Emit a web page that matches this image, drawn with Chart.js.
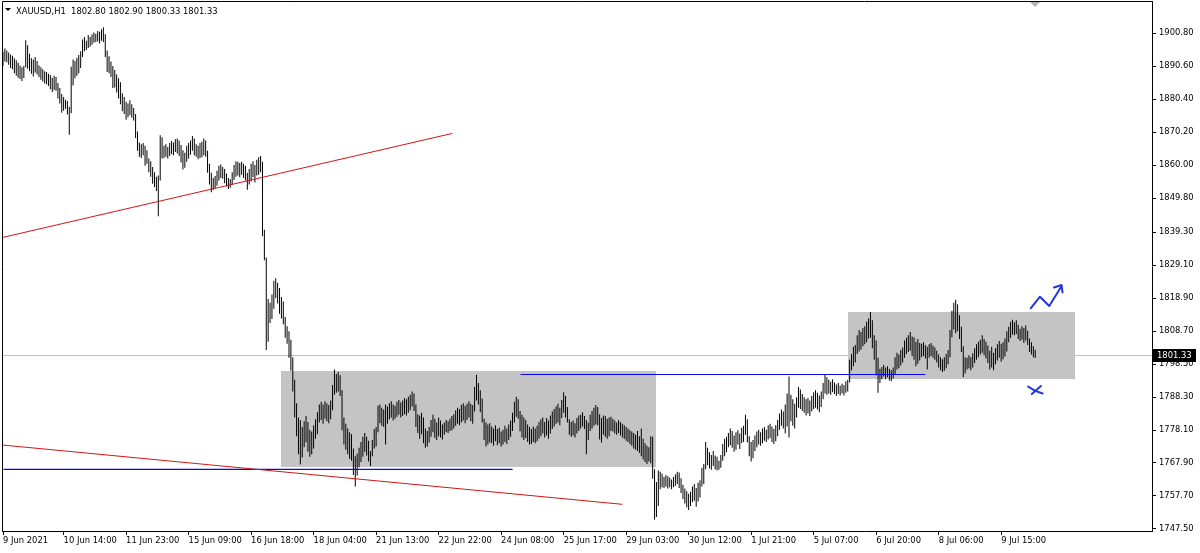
<!DOCTYPE html>
<html>
<head>
<meta charset="utf-8">
<title>XAUUSD,H1</title>
<script src="https://cdn.jsdelivr.net/npm/chart.js@4.4.0/dist/chart.umd.min.js"></script>
<style>
    html, body { margin: 0; padding: 0; background: #fff; }
    #chartBox { width: 1200px; height: 553px; }
</style>
</head>
<body>
<div id="chartBox"><canvas id="priceChart" width="1200" height="553"></canvas></div>
<script>
const symbolTitle = 'XAUUSD,H1';
const lastBarOhlc = [1802.80, 1802.90, 1800.33, 1801.33];
const lastPrice = 1801.33;

// H1 bars, one value per hour
const barHigh = [
    1895.0, 1896.0, 1895.4, 1894.8, 1894.2, 1893.8, 1893.0, 1892.4, 1891.6, 1890.8,
    1890.2, 1890.6, 1898.6, 1897.0, 1894.4, 1893.0, 1892.6, 1893.4, 1892.2, 1890.8,
    1890.2, 1889.6, 1889.0, 1888.8, 1888.2, 1887.8, 1887.0, 1887.6, 1887.2, 1885.4,
    1883.8, 1882.0, 1881.0, 1880.2, 1879.8, 1878.0, 1890.4, 1892.6, 1892.2, 1893.2,
    1894.0, 1895.2, 1898.8, 1899.6, 1898.4, 1900.2, 1899.6, 1900.4, 1901.0, 1900.6,
    1901.4, 1901.2, 1902.0, 1902.6, 1900.4, 1895.4, 1893.6, 1892.0, 1890.6, 1889.4,
    1888.0, 1886.8, 1885.6, 1882.2, 1881.0, 1879.6, 1879.0, 1880.0, 1878.8, 1877.6,
    1875.8, 1870.4, 1867.0, 1866.4, 1866.8, 1866.0, 1864.6, 1862.0, 1861.2, 1859.4,
    1857.8, 1856.4, 1856.8, 1869.2, 1868.6, 1866.0, 1866.4, 1865.6, 1866.8, 1867.4,
    1867.0, 1868.0, 1868.2, 1867.6, 1866.2, 1864.6, 1863.8, 1866.0, 1866.8, 1867.6,
    1869.0, 1868.2, 1866.4, 1866.0, 1866.8, 1867.2, 1868.2, 1867.6, 1864.4, 1860.4,
    1857.6, 1856.0, 1856.6, 1858.2, 1859.8, 1860.2, 1859.4, 1858.8, 1857.4, 1856.0,
    1855.6, 1857.8, 1860.0, 1861.2, 1861.0, 1860.6, 1861.0, 1860.4, 1859.8, 1857.6,
    1858.8, 1860.4, 1861.2, 1860.0, 1861.6, 1862.4, 1862.8, 1861.0, 1840.0, 1831.4,
    1818.6, 1817.4, 1820.0, 1824.2, 1825.0, 1823.6, 1822.0, 1819.2, 1817.8, 1813.0,
    1810.2, 1808.6, 1806.0, 1800.6, 1793.6, 1786.4, 1782.0, 1781.2, 1779.0, 1780.8,
    1782.4, 1780.6, 1778.2, 1777.6, 1779.6, 1781.4, 1783.6, 1786.0, 1786.8, 1786.0,
    1787.0, 1786.4, 1785.8, 1787.2, 1792.0, 1796.8, 1795.4, 1796.0, 1795.0, 1790.4,
    1782.0, 1780.0, 1778.6, 1777.4, 1776.8, 1772.4, 1770.0, 1770.8, 1772.6, 1774.4,
    1776.0, 1777.2, 1776.0, 1774.8, 1771.6, 1775.0, 1778.4, 1779.0, 1785.6, 1786.0,
    1785.0, 1784.4, 1786.0, 1785.4, 1786.4, 1787.0, 1786.0, 1785.6, 1786.8, 1787.4,
    1786.6, 1787.2, 1788.0, 1787.6, 1788.4, 1789.0, 1790.0, 1789.4, 1786.0, 1783.0,
    1782.6, 1783.4, 1782.0, 1778.6, 1777.8, 1779.0, 1781.2, 1782.8, 1781.6, 1780.4,
    1782.0, 1781.0, 1779.8, 1780.4, 1781.2, 1780.8, 1781.6, 1782.4, 1783.0, 1784.2,
    1785.0, 1784.6, 1785.8, 1786.4, 1785.6, 1786.2, 1787.0, 1786.2, 1785.8, 1791.4,
    1795.2, 1792.6, 1790.4, 1787.8, 1781.6, 1780.4, 1779.8, 1780.2, 1779.2, 1778.6,
    1779.6, 1778.4, 1778.8, 1777.6, 1778.2, 1779.4, 1778.6, 1779.8, 1781.0, 1783.4,
    1786.8, 1788.4, 1787.6, 1784.0, 1782.8, 1782.0, 1781.2, 1779.8, 1779.0, 1778.4,
    1779.2, 1778.6, 1779.4, 1780.6, 1781.4, 1782.0, 1780.6, 1781.8, 1781.0, 1782.6,
    1783.8, 1784.6, 1785.4, 1786.2, 1785.0, 1787.4, 1789.8, 1788.6, 1785.2, 1781.4,
    1780.6, 1781.0, 1780.2, 1781.8, 1782.6, 1782.8, 1783.6, 1782.4, 1781.2, 1780.4,
    1782.8, 1784.0, 1785.0, 1785.8, 1785.2, 1783.0, 1781.8, 1782.6, 1782.4, 1781.6,
    1782.0, 1782.2, 1781.6, 1781.0, 1780.4, 1781.2, 1780.6, 1780.0, 1779.6, 1779.0,
    1778.6, 1778.0, 1777.6, 1777.2, 1776.6, 1777.8, 1776.2, 1778.6, 1775.4, 1774.0,
    1773.2, 1772.8, 1776.2, 1776.0, 1766.0, 1762.0, 1765.6, 1765.2, 1764.6, 1763.6,
    1764.2, 1763.8, 1763.4, 1762.8, 1763.6, 1764.4, 1765.2, 1765.0, 1763.2, 1761.2,
    1760.0, 1759.2, 1758.4, 1759.0, 1760.6, 1761.4, 1760.2, 1761.8, 1762.6, 1766.4,
    1767.6, 1774.4, 1772.6, 1771.2, 1770.4, 1771.6, 1770.2, 1769.8, 1768.6, 1770.4,
    1773.8, 1775.4, 1776.0, 1777.2, 1778.6, 1777.8, 1776.4, 1777.4, 1778.0, 1777.0,
    1778.8, 1779.4, 1782.8, 1781.4, 1776.2, 1774.4, 1775.0, 1776.4, 1777.6, 1778.2,
    1777.4, 1778.6, 1779.0, 1778.2, 1779.6, 1780.0, 1779.2, 1778.4, 1779.6, 1781.2,
    1783.2, 1784.4, 1783.8, 1786.0, 1789.4, 1794.6, 1789.0, 1787.6, 1786.2, 1788.2,
    1791.4, 1790.6, 1789.2, 1788.2, 1787.6, 1788.0, 1787.2, 1788.6, 1789.8, 1790.4,
    1789.6, 1788.8, 1790.0, 1792.6, 1795.2, 1794.4, 1793.6, 1793.0, 1793.8, 1792.8,
    1792.2, 1792.6, 1791.8, 1792.4, 1792.0, 1793.2, 1793.6, 1799.8, 1801.6, 1803.8,
    1804.4, 1807.4, 1809.0, 1808.4, 1809.6, 1810.2, 1811.6, 1812.6, 1814.6, 1812.0,
    1807.4, 1805.8, 1800.4, 1797.0, 1797.6, 1798.2, 1797.4, 1797.8, 1797.0, 1796.6,
    1797.4, 1800.6, 1802.0, 1801.4, 1802.8, 1803.6, 1805.8, 1806.6, 1807.4, 1808.4,
    1807.0, 1806.8, 1805.4, 1806.2, 1805.0, 1804.8, 1805.2, 1804.4, 1803.8, 1804.6,
    1805.0, 1804.2, 1803.6, 1802.6, 1801.4, 1800.6, 1800.0, 1800.6, 1801.6, 1802.8,
    1809.0, 1815.0, 1817.4, 1818.4, 1817.0, 1813.6, 1810.0, 1804.0, 1800.6, 1800.4,
    1801.2, 1800.6, 1801.8, 1803.4, 1804.6, 1805.4, 1806.0, 1807.4, 1806.2, 1805.4,
    1804.2, 1802.6, 1803.8, 1802.0, 1803.4, 1804.6, 1805.6, 1804.8, 1805.2, 1806.4,
    1808.6, 1810.0, 1811.6, 1812.2, 1811.4, 1812.0, 1810.6, 1809.4, 1810.2, 1809.6,
    1810.4, 1808.8, 1806.4, 1805.2, 1804.0, 1802.9
];
const barLow = [
    1890.6, 1892.0, 1891.8, 1891.0, 1890.0, 1889.6, 1888.4, 1887.6, 1887.0, 1886.6,
    1886.0, 1886.9, 1890.2, 1889.8, 1889.0, 1888.2, 1887.4, 1888.6, 1888.0, 1887.2,
    1886.4, 1885.8, 1885.2, 1885.0, 1884.4, 1883.4, 1882.6, 1883.2, 1883.0, 1880.6,
    1879.0, 1876.2, 1876.8, 1877.4, 1875.6, 1869.4, 1876.0, 1884.6, 1886.8, 1887.6,
    1888.4, 1890.0, 1893.4, 1895.2, 1895.6, 1896.2, 1896.6, 1897.2, 1897.8, 1898.0,
    1898.2, 1897.6, 1898.4, 1898.0, 1893.4, 1888.8, 1888.4, 1887.2, 1883.8, 1884.0,
    1882.4, 1880.6, 1878.8, 1876.6, 1875.8, 1874.0, 1874.8, 1875.4, 1874.6, 1873.8,
    1868.4, 1864.4, 1862.6, 1862.2, 1863.0, 1859.8, 1860.4, 1857.8, 1856.4, 1854.2,
    1853.2, 1852.0, 1844.2, 1855.2, 1862.0, 1862.2, 1862.6, 1862.0, 1862.8, 1863.4,
    1863.0, 1864.0, 1863.6, 1862.8, 1860.8, 1858.6, 1859.2, 1861.0, 1862.0, 1863.2,
    1864.4, 1863.0, 1862.6, 1861.8, 1862.2, 1862.4, 1863.0, 1862.6, 1857.6, 1854.0,
    1851.6, 1852.4, 1852.8, 1853.6, 1855.2, 1856.0, 1855.8, 1854.4, 1853.4, 1852.6,
    1853.0, 1853.8, 1855.4, 1856.4, 1856.8, 1856.2, 1857.0, 1856.0, 1855.2, 1852.4,
    1854.0, 1855.0, 1856.2, 1854.6, 1856.8, 1857.0, 1857.8, 1838.0, 1830.6, 1802.8,
    1805.4, 1811.2, 1812.4, 1815.6, 1818.8, 1817.2, 1814.0, 1812.6, 1810.8, 1806.6,
    1804.8, 1800.4, 1796.4, 1790.0, 1782.0, 1776.2, 1770.6, 1767.4, 1769.6, 1772.8,
    1774.2, 1771.4, 1769.8, 1770.6, 1772.4, 1775.4, 1776.8, 1780.4, 1781.2, 1780.0,
    1781.6, 1780.8, 1780.2, 1781.4, 1784.2, 1789.0, 1789.6, 1790.0, 1788.6, 1778.0,
    1773.6, 1772.0, 1770.6, 1769.2, 1768.6, 1764.2, 1760.6, 1764.0, 1766.6, 1768.2,
    1769.8, 1771.4, 1770.2, 1768.4, 1767.0, 1770.0, 1772.4, 1773.0, 1777.4, 1780.2,
    1779.4, 1779.0, 1773.6, 1780.0, 1781.4, 1782.0, 1781.0, 1781.6, 1782.2, 1782.8,
    1782.0, 1782.4, 1783.0, 1782.6, 1783.4, 1784.2, 1785.4, 1784.0, 1779.0, 1777.2,
    1775.4, 1776.8, 1774.0, 1772.6, 1773.0, 1774.2, 1776.0, 1777.4, 1775.6, 1775.0,
    1776.2, 1775.8, 1775.2, 1776.6, 1777.4, 1777.2, 1777.8, 1778.0, 1778.6, 1779.4,
    1780.0, 1779.6, 1780.4, 1781.0, 1780.2, 1781.2, 1782.0, 1780.8, 1780.0, 1783.8,
    1787.2, 1786.0, 1783.6, 1780.4, 1775.0, 1773.0, 1773.6, 1774.2, 1774.0, 1773.2,
    1774.6, 1773.4, 1774.0, 1773.0, 1773.6, 1774.4, 1773.8, 1775.0, 1776.0, 1777.8,
    1780.4, 1782.2, 1781.6, 1777.6, 1775.8, 1775.0, 1775.6, 1774.4, 1773.6, 1773.8,
    1774.4, 1774.0, 1774.6, 1775.4, 1776.2, 1777.0, 1775.8, 1776.4, 1775.4, 1777.0,
    1778.4, 1779.2, 1780.0, 1780.4, 1779.6, 1781.8, 1783.4, 1782.0, 1780.4, 1776.6,
    1776.0, 1776.4, 1775.8, 1777.0, 1777.8, 1778.6, 1779.2, 1778.4, 1770.6, 1775.0,
    1777.8, 1778.6, 1779.4, 1779.8, 1779.6, 1775.2, 1774.2, 1776.6, 1776.0, 1775.4,
    1776.2, 1777.8, 1777.6, 1777.0, 1776.6, 1777.2, 1776.4, 1775.8, 1775.4, 1774.8,
    1774.4, 1773.8, 1773.2, 1772.4, 1772.0, 1771.6, 1771.0, 1770.0, 1769.0, 1768.2,
    1767.6, 1768.4, 1767.8, 1763.0, 1750.4, 1751.2, 1754.6, 1759.8, 1760.4, 1760.2,
    1760.6, 1760.0, 1760.4, 1759.8, 1760.4, 1760.8, 1761.4, 1760.2, 1758.6, 1756.8,
    1755.4, 1754.2, 1753.4, 1754.6, 1755.8, 1756.2, 1754.4, 1756.0, 1757.2, 1760.6,
    1761.4, 1766.0, 1767.2, 1766.2, 1765.8, 1767.0, 1766.0, 1765.6, 1765.8, 1766.4,
    1768.6, 1770.0, 1771.2, 1772.8, 1773.4, 1772.6, 1771.4, 1772.0, 1773.6, 1772.2,
    1774.0, 1774.4, 1776.6, 1774.2, 1770.0, 1768.4, 1769.4, 1771.6, 1772.8, 1773.6,
    1773.2, 1774.0, 1774.8, 1774.4, 1775.2, 1775.6, 1774.4, 1773.8, 1774.6, 1776.2,
    1778.2, 1779.4, 1778.6, 1777.0, 1779.2, 1775.8, 1780.8, 1779.4, 1778.6, 1782.0,
    1785.0, 1784.6, 1784.0, 1783.4, 1782.6, 1783.2, 1782.4, 1783.8, 1784.6, 1785.0,
    1784.4, 1783.6, 1785.2, 1787.6, 1789.4, 1789.0, 1789.4, 1789.0, 1789.8, 1789.2,
    1788.6, 1789.2, 1788.8, 1789.4, 1788.8, 1789.6, 1790.0, 1792.8, 1796.6, 1797.8,
    1799.0, 1801.6, 1802.4, 1803.0, 1804.0, 1804.6, 1805.2, 1806.4, 1806.6, 1803.4,
    1799.8, 1795.0, 1789.6, 1792.6, 1793.8, 1794.6, 1793.8, 1794.4, 1793.4, 1793.2,
    1794.0, 1795.2, 1796.8, 1797.2, 1798.0, 1799.0, 1800.4, 1801.6, 1802.2, 1802.6,
    1801.0, 1799.8, 1797.8, 1798.6, 1799.6, 1800.6, 1801.0, 1800.2, 1796.8, 1800.4,
    1801.0, 1800.4, 1799.8, 1799.0, 1797.4, 1796.6, 1796.0, 1796.4, 1797.2, 1798.4,
    1800.6, 1806.8, 1809.2, 1808.0, 1808.6, 1806.2, 1802.2, 1794.4, 1795.6, 1796.8,
    1797.2, 1796.6, 1797.4, 1798.8, 1799.8, 1800.6, 1801.4, 1802.0, 1801.2, 1800.2,
    1798.8, 1796.8, 1797.4, 1796.6, 1798.4, 1799.6, 1800.4, 1799.2, 1800.0, 1800.8,
    1802.4, 1805.2, 1806.6, 1807.6, 1807.4, 1807.8, 1806.2, 1805.6, 1806.0, 1805.0,
    1805.8, 1804.4, 1802.2, 1801.4, 1800.6, 1800.33
];

// bar index of each time label on the bottom axis
const xTickIndex = [0, 32, 65, 98, 131, 164, 197, 230, 263, 296, 329, 362, 395, 428, 461, 494, 527];
const xTickLabels = ['9 Jun 2021', '10 Jun 14:00', '11 Jun 23:00', '15 Jun 09:00', '16 Jun 18:00',
    '18 Jun 04:00', '21 Jun 13:00', '22 Jun 22:00', '24 Jun 08:00', '25 Jun 17:00', '29 Jun 03:00',
    '30 Jun 12:00', '1 Jul 21:00', '5 Jul 07:00', '6 Jul 20:00', '8 Jul 06:00', '9 Jul 15:00'];
const yTickValues = [1900.80, 1890.60, 1880.40, 1870.20, 1860.00, 1849.80, 1839.30, 1829.10,
    1818.90, 1808.70, 1798.50, 1788.30, 1778.10, 1767.90, 1757.70, 1747.50];

// drawn objects, as [bar index, price]
const trendLines = [
    {color: '#d41414', width: 1, points: [[-0.5, 1837.58], [237.1, 1869.76]]},
    {color: '#d41414', width: 1, points: [[-0.5, 1773.47], [326.8, 1755.14]]},
    {color: '#0a0ae0', width: 1.2, points: [[0.5, 1765.9], [268.8, 1765.9]]},
    {color: '#0a0ae0', width: 1.2, points: [[273.5, 1795.26], [486.8, 1795.26]]},
    {color: '#2236e0', width: 2, points: [[542.6, 1815.72], [547.5, 1819.31], [552.4, 1816.43], [558.6, 1822.3]]},
    {color: '#2236e0', width: 2, points: [[554.9, 1822.15], [558.9, 1822.93], [559.4, 1820.61]]},
    {color: '#2236e0', width: 2, points: [[541.3, 1791.5], [545.0, 1790.2], [548.9, 1789.4]]},
    {color: '#2236e0', width: 2, points: [[543.2, 1789.2], [548.0, 1791.7]]}
];
const rangeBoxes = [
    {from: 146.8, to: 344.8, top: 1796.34, bottom: 1766.76},
    {from: 446.3, to: 566.0, top: 1814.67, bottom: 1793.87}
];

const fontFamily = '"DejaVu Sans", Tahoma, sans-serif';
const fontSize = 8.4;

const backdropPlugin = {
    id: 'backdrop',
    beforeDatasetsDraw(chart) {
        const {ctx, chartArea: area, scales: {x, y}} = chart;
        ctx.save();
        ctx.beginPath();
        ctx.rect(area.left, area.top, area.right - area.left, area.bottom - area.top);
        ctx.clip();

        // bid line
        const py = Math.round(y.getPixelForValue(lastPrice)) + 0.5;
        ctx.strokeStyle = '#c0c0c0';
        ctx.lineWidth = 1;
        ctx.beginPath();
        ctx.moveTo(area.left, py);
        ctx.lineTo(area.right, py);
        ctx.stroke();

        ctx.fillStyle = '#c4c4c4';
        rangeBoxes.forEach(box => {
            const x1 = Math.round(x.getPixelForValue(box.from));
            const x2 = Math.round(x.getPixelForValue(box.to));
            const y1 = Math.round(y.getPixelForValue(box.top));
            const y2 = Math.round(y.getPixelForValue(box.bottom));
            ctx.fillRect(x1, y1, x2 - x1, y2 - y1);
        });
        ctx.restore();
    }
};

const overlayPlugin = {
    id: 'overlay',
    afterDraw(chart) {
        const {ctx, chartArea: area, scales: {x, y}} = chart;
        ctx.save();

        // frame, left and top side (axes draw the others)
        ctx.strokeStyle = '#000';
        ctx.lineWidth = 1;
        ctx.beginPath();
        ctx.moveTo(area.left + 0.5, area.bottom);
        ctx.lineTo(area.left + 0.5, area.top + 0.5);
        ctx.lineTo(area.right, area.top + 0.5);
        ctx.stroke();

        // chart shift marker
        const sx = Math.round(x.getPixelForValue(barHigh.length - 1));
        ctx.fillStyle = '#b4b4b4';
        ctx.beginPath();
        ctx.moveTo(sx - 5, area.top + 1);
        ctx.lineTo(sx + 5, area.top + 1);
        ctx.lineTo(sx, area.top + 6);
        ctx.closePath();
        ctx.fill();

        // header
        ctx.fillStyle = '#000';
        ctx.beginPath();
        ctx.moveTo(5, 8);
        ctx.lineTo(11, 8);
        ctx.lineTo(8, 11);
        ctx.closePath();
        ctx.fill();
        ctx.font = fontSize + 'px ' + fontFamily;
        ctx.textBaseline = 'alphabetic';
        ctx.textAlign = 'left';
        ctx.fillText(symbolTitle + '  ' + lastBarOhlc.map(v => v.toFixed(2)).join(' '), 16, 14);

        // last price label on the price axis
        const py = Math.round(y.getPixelForValue(lastPrice));
        ctx.fillStyle = '#000';
        ctx.fillRect(area.right + 1, py - 6, 43, 13);
        ctx.fillStyle = '#fff';
        ctx.textBaseline = 'middle';
        ctx.fillText(lastPrice.toFixed(2), area.right + 5, py + 0.5);
        ctx.restore();
    }
};

const lineSets = trendLines.map(line => ({
    type: 'line',
    data: line.points.map(p => ({x: p[0], y: p[1]})),
    borderColor: line.color,
    borderWidth: line.width,
    borderCapStyle: 'round',
    borderJoinStyle: 'round',
    pointRadius: 0,
    tension: 0,
    fill: false,
    order: 0
}));

const ctx = document.getElementById('priceChart').getContext('2d');
new Chart(ctx, {
    type: 'bar',
    data: {
        datasets: [{
            data: barHigh.map((h, i) => ({x: i, y: [barLow[i], h]})),
            backgroundColor: '#000',
            borderWidth: 0,
            barThickness: 1,
            inflateAmount: 0,
            order: 1
        }].concat(lineSets)
    },
    options: {
        responsive: false,
        animation: false,
        devicePixelRatio: 1,
        events: [],
        layout: {padding: {left: 2, top: 1, right: 0, bottom: 0}},
        plugins: {
            legend: {display: false},
            tooltip: {enabled: false}
        },
        scales: {
            x: {
                type: 'linear',
                bounds: 'data',
                min: -0.528,
                max: 606.65,
                offset: false,
                grid: {offset: false, drawOnChartArea: false, drawTicks: true, tickLength: 4, color: '#000'},
                border: {display: true, color: '#000'},
                ticks: {
                    autoSkip: false,
                    maxRotation: 0,
                    align: 'start',
                    padding: 1,
                    color: '#000',
                    font: {family: fontFamily, size: fontSize},
                    callback: (value, index) => xTickLabels[index]
                },
                afterBuildTicks: scale => {
                    scale.ticks = xTickIndex.map(v => ({value: v}));
                },
                afterFit: scale => {
                    scale.height = 22;
                    scale.paddingLeft = 0;
                    scale.paddingRight = 0;
                }
            },
            y: {
                type: 'linear',
                position: 'right',
                bounds: 'data',
                min: 1746.88,
                max: 1910.71,
                grid: {drawOnChartArea: false, drawTicks: true, tickLength: 4, color: '#000'},
                border: {display: true, color: '#000'},
                ticks: {
                    crossAlign: 'near',
                    padding: 3,
                    color: '#000',
                    font: {family: fontFamily, size: fontSize},
                    callback: value => Number(value).toFixed(2)
                },
                afterBuildTicks: scale => {
                    scale.ticks = yTickValues.map(v => ({value: v}));
                },
                afterFit: scale => {
                    scale.width = 48;
                    scale.paddingTop = 0;
                    scale.paddingBottom = 0;
                }
            }
        }
    },
    plugins: [backdropPlugin, overlayPlugin]
});
</script>
</body>
</html>
